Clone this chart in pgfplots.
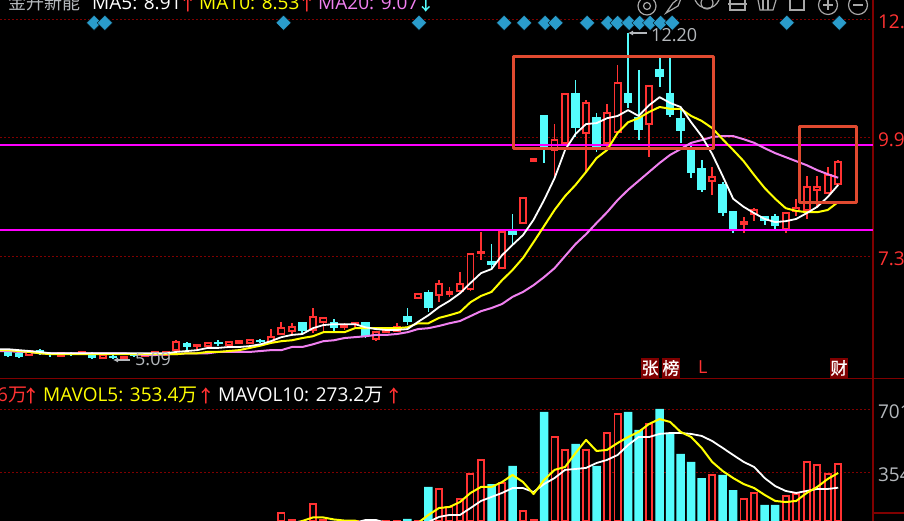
\documentclass[border=0pt]{standalone}
\usepackage{fontspec}
\setmainfont{Open Sans}
\newfontfamily\cjk{Noto Sans CJK SC}
\newfontfamily\arr[FakeBold=0.8]{Noto Sans CJK SC}
\usepackage{pgfplots}
\pgfplotsset{compat=1.18}
\usetikzlibrary{arrows.meta}
\definecolor{kred}{HTML}{FF3232}
\definecolor{kcyan}{HTML}{54FCFC}
\definecolor{kpink}{HTML}{F080F0}
\definecolor{kyel}{HTML}{FFFF00}
\definecolor{kmag}{HTML}{FF00FF}
\definecolor{kdark}{HTML}{800000}
\definecolor{kframe}{HTML}{E04A30}
\definecolor{kdiam}{HTML}{2A9CCB}
\definecolor{kgrey}{HTML}{B4B8BC}
\definecolor{kicon}{HTML}{A8A8A8}
% candles: index, open, high, low, close
\newcommand\up[5]{%
  \pgfmathsetmacro\xa{#1-0.29}\pgfmathsetmacro\xb{#1+0.29}%
  \addplot[kred,line width=1.8pt] coordinates {(#1,#3)(#1,#4)};
  \addplot[draw=kred,fill=black,line width=1.8pt] coordinates {(\xa,#2)(\xb,#2)(\xb,#5)(\xa,#5)} --cycle;
}
\newcommand\dn[5]{%
  \pgfmathsetmacro\xa{#1-0.4}\pgfmathsetmacro\xb{#1+0.4}%
  \addplot[kcyan,line width=1.8pt] coordinates {(#1,#3)(#1,#4)};
  \addplot[draw=none,fill=kcyan] coordinates {(\xa,#2)(\xb,#2)(\xb,#5)(\xa,#5)} --cycle;
}
\pgfplotsset{
  panel/.style={
    scale only axis, width=873pt,
    xmin=-0.7805, xmax=82.31,
    axis x line=none, axis y line=right,
    axis line style={draw=kdark,line width=2pt,-},
    ymajorgrids,
    major grid style={draw=kdark,line width=1pt,dash pattern=on 2pt off 2pt},
    major tick length=0pt,
    yticklabel style={anchor=west,xshift=1.5pt,yshift=-2pt,font=\fontsize{19}{22}\selectfont},
    /pgf/number format/assume math mode=true,
    /pgf/number format/fixed,
  },
  ma/.style={line width=#1,line join=round},
}
\newcommand\tx[4]{\node[anchor=base west,inner sep=0pt,text=#1,font=\fontsize{#2}{22}\selectfont] at #3 {#4};}
\begin{document}
\begin{tikzpicture}
\useasboundingbox (0,0) rectangle (904pt,521pt);
\clip (0,0) rectangle (904pt,521pt);
\fill[black] (0,0) rectangle (904pt,521pt);

\begin{axis}[panel, at={(0pt,141pt)}, anchor=south west, height=380pt,
  ymin=4.553, ymax=13.04,
  ytick={7.30,9.97,12.60},
  /pgf/number format/precision=2, /pgf/number format/fixed zerofill,
  yticklabel style={text=kred}]
\dn{0}{5.18}{5.20}{5.06}{5.09}
\dn{1}{5.15}{5.18}{5.04}{5.06}
\up{2}{5.11}{5.22}{5.09}{5.20}
\dn{3}{5.22}{5.24}{5.11}{5.15}
\dn{4}{5.15}{5.18}{5.06}{5.11}
\up{5}{5.09}{5.18}{5.06}{5.15}
\dn{6}{5.15}{5.18}{5.09}{5.11}
\up{7}{5.13}{5.20}{5.11}{5.18}
\dn{8}{5.15}{5.18}{5.02}{5.04}
\up{9}{5.04}{5.13}{5.02}{5.11}
\dn{10}{5.09}{5.13}{5.02}{5.04}
\up{11}{5.02}{5.09}{5.00}{5.06}
\dn{12}{5.13}{5.15}{5.06}{5.09}
\up{13}{5.09}{5.15}{5.06}{5.13}
\up{14}{5.11}{5.18}{5.09}{5.18}
\up{15}{5.11}{5.20}{5.09}{5.18}
\up{16}{5.22}{5.44}{5.20}{5.40}
\dn{17}{5.38}{5.40}{5.22}{5.29}
\up{18}{5.31}{5.35}{5.22}{5.33}
\up{19}{5.31}{5.38}{5.29}{5.38}
\dn{20}{5.40}{5.44}{5.31}{5.35}
\up{21}{5.33}{5.40}{5.31}{5.40}
\up{22}{5.38}{5.44}{5.35}{5.42}
\up{23}{5.38}{5.44}{5.35}{5.44}
\dn{24}{5.44}{5.47}{5.38}{5.40}
\up{25}{5.40}{5.69}{5.38}{5.51}
\up{26}{5.58}{5.85}{5.56}{5.71}
\up{27}{5.65}{5.82}{5.56}{5.73}
\dn{28}{5.85}{5.85}{5.60}{5.65}
\up{29}{5.67}{6.16}{5.60}{5.96}
\up{30}{5.85}{5.94}{5.62}{5.94}
\dn{31}{5.85}{5.91}{5.62}{5.71}
\up{32}{5.73}{5.82}{5.67}{5.78}
\up{33}{5.80}{5.82}{5.73}{5.82}
\dn{34}{5.85}{5.85}{5.49}{5.53}
\up{35}{5.47}{5.64}{5.42}{5.62}
\up{36}{5.62}{5.67}{5.60}{5.67}
\up{37}{5.65}{5.82}{5.62}{5.73}
\dn{38}{5.98}{6.16}{5.78}{5.85}
\up{39}{6.38}{6.47}{6.36}{6.47}
\dn{40}{6.52}{6.56}{6.07}{6.16}
\up{41}{6.45}{6.78}{6.29}{6.70}
\up{42}{6.47}{6.63}{6.41}{6.52}
\up{43}{6.54}{6.96}{6.54}{6.70}
\up{44}{6.58}{7.37}{6.54}{7.37}
\up{45}{7.39}{7.86}{7.23}{7.41}
\dn{46}{7.21}{7.59}{7.01}{7.12}
\up{47}{7.05}{7.86}{7.03}{7.86}
\dn{48}{7.88}{8.26}{7.57}{7.79}
\up{49}{8.06}{8.62}{8.04}{8.62}
\up{50}{9.44}{9.48}{9.44}{9.48}
\dn{51}{10.47}{10.47}{9.40}{9.73}
\up{52}{9.69}{10.27}{9.09}{9.91}
\up{53}{9.85}{10.94}{9.85}{10.94}
\dn{54}{10.96}{11.25}{9.98}{10.18}
\up{55}{10.07}{10.81}{9.18}{10.74}
\dn{56}{10.43}{10.52}{9.64}{9.73}
\up{57}{9.85}{10.72}{9.73}{10.52}
\up{58}{10.09}{11.59}{10.09}{11.19}
\dn{59}{10.96}{12.30}{10.63}{10.74}
\dn{60}{10.43}{11.48}{9.91}{10.14}
\up{61}{10.27}{11.12}{9.53}{11.12}
\dn{62}{11.50}{11.77}{11.10}{11.32}
\dn{63}{10.96}{11.77}{10.43}{10.47}
\dn{64}{10.40}{10.58}{9.85}{10.11}
\dn{65}{9.76}{9.85}{9.06}{9.18}
\dn{66}{9.29}{9.46}{8.75}{8.80}
\up{67}{9.00}{9.31}{8.68}{9.09}
\dn{68}{8.93}{8.97}{8.21}{8.28}
\dn{69}{8.33}{8.33}{7.83}{7.92}
\up{70}{8.04}{8.19}{7.83}{8.08}
\up{71}{8.26}{8.39}{8.10}{8.35}
\dn{72}{8.21}{8.21}{8.01}{8.10}
\dn{73}{8.21}{8.26}{7.92}{7.99}
\up{74}{7.92}{8.28}{7.83}{8.28}
\up{75}{8.33}{8.60}{8.21}{8.39}
\up{76}{8.35}{9.11}{8.15}{8.86}
\up{77}{8.80}{9.11}{8.39}{8.86}
\up{78}{8.73}{9.31}{8.73}{9.13}
\up{79}{8.93}{9.46}{8.93}{9.42}
% price levels
\addplot[draw=kmag,line width=2pt] coordinates {(-1,9.80)(82.31,9.80)};
\addplot[draw=kmag,line width=2pt] coordinates {(-1,7.90)(82.31,7.90)};
% MA20
\addplot[kpink,ma=2pt] coordinates {(-1,5.20)(0,5.20)(1,5.18)(2,5.18)(3,5.15)(4,5.15)(5,5.15)(6,5.15)(7,5.15)(8,5.15)(9,5.15)(10,5.15)(11,5.15)(12,5.13)(13,5.11)(14,5.11)(15,5.13)(16,5.13)(17,5.15)(18,5.15)(19,5.15)(20,5.18)(21,5.18)(22,5.18)(23,5.18)(24,5.20)(25,5.22)(26,5.22)(27,5.29)(28,5.29)(29,5.35)(30,5.42)(31,5.44)(32,5.49)(33,5.51)(34,5.53)(35,5.56)(36,5.56)(37,5.58)(38,5.62)(39,5.69)(40,5.71)(41,5.76)(42,5.82)(43,5.87)(44,5.98)(45,6.09)(46,6.16)(47,6.25)(48,6.41)(49,6.52)(50,6.67)(51,6.85)(52,7.05)(53,7.32)(54,7.59)(55,7.81)(56,8.06)(57,8.30)(58,8.57)(59,8.80)(60,9.00)(61,9.20)(62,9.40)(63,9.58)(64,9.71)(65,9.85)(66,9.91)(67,9.98)(68,10.00)(69,10.00)(70,9.93)(71,9.85)(72,9.73)(73,9.62)(74,9.53)(75,9.44)(76,9.35)(77,9.24)(78,9.15)(79,9.07)};
% MA10
\addplot[kyel,ma=2pt] coordinates {(-1,5.22)(0,5.22)(1,5.20)(2,5.18)(3,5.15)(4,5.13)(5,5.13)(6,5.13)(7,5.13)(8,5.13)(9,5.13)(10,5.13)(11,5.13)(12,5.13)(13,5.13)(14,5.13)(15,5.13)(16,5.13)(17,5.15)(18,5.15)(19,5.18)(20,5.18)(21,5.20)(22,5.22)(23,5.27)(24,5.32)(25,5.38)(26,5.42)(27,5.44)(28,5.49)(29,5.53)(30,5.62)(31,5.62)(32,5.62)(33,5.71)(34,5.71)(35,5.71)(36,5.71)(37,5.71)(38,5.73)(39,5.82)(40,5.82)(41,5.94)(42,6.00)(43,6.07)(44,6.29)(45,6.43)(46,6.52)(47,6.78)(48,7.01)(49,7.28)(50,7.63)(51,7.99)(52,8.35)(53,8.66)(54,8.91)(55,9.20)(56,9.51)(57,9.69)(58,10.07)(59,10.31)(60,10.40)(61,10.54)(62,10.65)(63,10.61)(64,10.61)(65,10.45)(66,10.34)(67,10.18)(68,9.93)(69,9.69)(70,9.44)(71,9.13)(72,8.84)(73,8.60)(74,8.39)(75,8.33)(76,8.30)(77,8.30)(78,8.35)(79,8.53)};
% MA5
\addplot[white,ma=1.8pt] coordinates {(-1,5.24)(0,5.24)(1,5.22)(2,5.20)(3,5.18)(4,5.15)(5,5.15)(6,5.15)(7,5.15)(8,5.15)(9,5.15)(10,5.15)(11,5.15)(12,5.15)(13,5.15)(14,5.15)(15,5.15)(16,5.18)(17,5.20)(18,5.22)(19,5.27)(20,5.27)(21,5.29)(22,5.29)(23,5.31)(24,5.35)(25,5.42)(26,5.51)(27,5.56)(28,5.58)(29,5.71)(30,5.78)(31,5.80)(32,5.80)(33,5.80)(34,5.73)(35,5.69)(36,5.67)(37,5.67)(38,5.69)(39,5.85)(40,6.00)(41,6.18)(42,6.32)(43,6.49)(44,6.72)(45,6.94)(46,7.03)(47,7.34)(48,7.57)(49,7.79)(50,8.13)(51,8.57)(52,9.06)(53,9.69)(54,10.05)(55,10.27)(56,10.29)(57,10.40)(58,10.45)(59,10.58)(60,10.45)(61,10.69)(62,10.87)(63,10.74)(64,10.65)(65,10.31)(66,10.00)(67,9.60)(68,9.11)(69,8.60)(70,8.42)(71,8.28)(72,8.15)(73,8.08)(74,8.10)(75,8.15)(76,8.28)(77,8.42)(78,8.64)(79,8.91)};
% signal markers
\addplot[only marks,mark=square*,mark size=5.4pt,mark options={rotate=45,draw=none,fill=kdiam}] coordinates {(8.17,12.53)(9.2,12.53)(26.2,12.53)(39.1,12.53)(47.2,12.53)(49.1,12.53)(51.1,12.53)(52.1,12.53)(55.1,12.53)(57.1,12.53)(58.0,12.53)(59.1,12.53)(60.1,12.53)(61.1,12.53)(62.1,12.53)(63.2,12.53)(74.1,12.53)(79.1,12.53)};
\end{axis}

\begin{axis}[panel, at={(0pt,0pt)}, anchor=south west, height=141pt,
  ymin=89.6, ymax=866,
  ytick={354,701},
  /pgf/number format/precision=0,
  yticklabel style={text=kgrey}]
\addplot[ybar,bar shift=0pt,bar width=6.2pt,draw=kred,fill=black,line width=1.8pt] coordinates {(26,134)(27,95)(29,183)(30,95)(32,70)(33,70)(35,70)(36,70)(37,70)(39,70)(41,264)(42,167)(43,211)(44,348)(45,426)(47,299)(49,145)(50,95)(52,552)(53,481)(55,481)(57,574)(58,679)(61,624)(67,343)(70,211)(71,244)(74,227)(75,238)(76,415)(77,398)(78,348)(79,404)};
\addplot[ybar,bar shift=0pt,bar width=8.5pt,draw=none,fill=kcyan] coordinates {(28,70)(31,70)(34,70)(38,101)(40,277)(46,293)(48,393)(51,690)(54,514)(56,393)(59,690)(60,591)(62,707)(63,574)(64,459)(65,415)(66,326)(68,343)(69,260)(72,178)(73,178)};
% MAVOL10
\addplot[white,ma=1.8pt] coordinates {(33,80)(34,95)(35,95)(36,80)(37,70)(38,70)(39,75)(40,84)(41,112)(42,123)(43,123)(44,161)(45,200)(46,222)(47,244)(48,271)(49,271)(50,249)(51,293)(52,326)(53,371)(54,376)(55,382)(56,409)(57,426)(58,453)(59,508)(60,552)(61,552)(62,569)(63,574)(64,574)(65,569)(66,558)(67,530)(68,492)(69,453)(70,415)(71,387)(72,326)(73,282)(74,255)(75,244)(76,255)(77,266)(78,266)(79,273)};
% MAVOL5
\addplot[kyel,ma=2pt] coordinates {(27,75)(28,90)(29,109)(30,109)(31,98)(32,92)(33,92)(34,73)(35,73)(36,73)(37,73)(38,73)(39,79)(40,123)(41,161)(42,167)(43,194)(44,244)(45,277)(46,277)(47,304)(48,343)(49,304)(50,238)(51,315)(52,371)(53,387)(54,464)(55,536)(56,475)(57,481)(58,519)(59,552)(60,580)(61,624)(62,651)(63,635)(64,580)(65,552)(66,492)(67,415)(68,365)(69,326)(70,293)(71,271)(72,233)(73,200)(74,194)(75,200)(76,244)(77,277)(78,321)(79,354)};
\end{axis}

% panel rules
\draw[kdark,line width=1pt] (0,142pt) -- (904pt,142pt);
\draw[kdark,line width=2pt] (873pt,8pt) -- (904pt,8pt);
% hand-drawn frames
\draw[kframe,line width=3pt,line join=round] (513pt,464pt) rectangle (713pt,372pt);
\draw[kframe,line width=3pt,line join=round] (799pt,394pt) rectangle (856pt,318pt);

% header
\tx{kgrey}{18}{(8pt,511pt)}{\cjk 金升新能}
\tx{white}{19}{(92pt,511pt)}{MA5: 8.91}
\tx{kred}{17}{(179pt,511pt)}{\arr ↑}
\tx{kyel}{19}{(199pt,511pt)}{MA10: 8.53}
\tx{kred}{17}{(298pt,511pt)}{\arr ↑}
\tx{kpink}{19}{(318pt,511pt)}{MA20: 9.07}
\tx{kcyan}{17}{(417pt,511pt)}{\arr ↓}
% volume header
\tx{kred}{19}{(-3pt,119pt)}{6{\cjk 万}}
\tx{kred}{17}{(22pt,119pt)}{\arr ↑}
\tx{kyel}{19}{(43pt,119pt)}{MAVOL5: 353.4{\cjk 万}}
\tx{kred}{17}{(197pt,119pt)}{\arr ↑}
\tx{white}{19}{(218pt,119pt)}{MAVOL10: 273.2{\cjk 万}}
\tx{kred}{17}{(385pt,119pt)}{\arr ↑}
% high and low labels
\draw[kgrey,line width=1.2pt,-{Latex[length=5pt,width=5pt]}] (647pt,488pt) -- (628pt,488pt);
\tx{kgrey}{18}{(651pt,479pt)}{12.20}
\draw[kgrey,line width=1.2pt,-{Latex[length=5pt,width=5pt]}] (130pt,161pt) -- (113pt,161pt);
\tx{kgrey}{18}{(135pt,155pt)}{5.09}
% event tags
\foreach \x/\t in {641/张,662/榜,830/财}{
  \fill[kdark] (\x pt,143pt) rectangle ++(18pt,20pt);
  \node[text=white,inner sep=0pt,font=\fontsize{17}{18}\selectfont\arr] at (\x pt+9pt,153pt) {\t};
}
\tx{kred}{18}{(698pt,147pt)}{L}
% toolbar icons
\begin{scope}[kicon,line width=1.2pt]
  \draw (647pt,515pt) circle (9pt); \draw (647pt,515pt) circle (3.5pt);
  \draw (666pt,508pt) -- (673pt,518pt) -- (682pt,525pt) -- (678pt,515pt) -- cycle;
  \draw (695pt,521pt) .. controls (700pt,510pt) and (714pt,510pt) .. (719pt,521pt);
  \draw (707pt,518pt) circle (6pt);
  \draw (730pt,521pt) -- (730pt,511pt) -- (745pt,511pt) -- (745pt,521pt); \draw (728pt,517pt) -- (747pt,517pt);
  \draw (758pt,521pt) -- (760pt,511pt) -- (773pt,511pt) -- (776pt,521pt); \draw (763pt,511pt) -- (763pt,521pt); \draw (768pt,511pt) -- (768pt,521pt);
  \draw (790pt,521pt) -- (790pt,511pt) -- (804pt,511pt) -- (804pt,521pt);
  \draw (828pt,516pt) circle (9.5pt); \draw (823pt,516pt) -- (833pt,516pt); \draw (828pt,511pt) -- (828pt,521pt);
  \draw (858pt,516pt) circle (9.5pt); \draw (853pt,516pt) -- (863pt,516pt);
\end{scope}
\end{tikzpicture}
\end{document}
